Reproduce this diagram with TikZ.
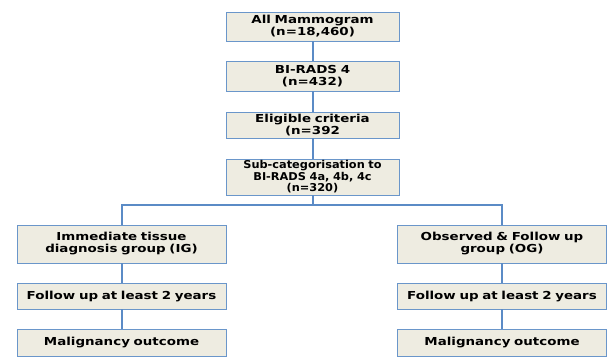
\documentclass[tikz,border=0pt]{standalone}
\usepackage{fontspec}
\setmainfont{DejaVu Sans}
\newfontfamily\boxfont[FakeStretch=1.22]{DejaVu Sans Bold}
\newfontfamily\subfont[FakeStretch=1.05]{DejaVu Sans Bold}
\usetikzlibrary{positioning}
\definecolor{boxfill}{HTML}{EEECE1}
\definecolor{boxline}{HTML}{6A96CA}
\definecolor{linkblue}{HTML}{5B8BC6}

\begin{document}
\begin{tikzpicture}[
    x=1pt, y=1pt,
    stepbox/.style={
    rectangle,
    draw=boxline,
    fill=boxfill,
    line width=1pt,
    inner xsep=2pt,
    inner ysep=0pt,
    outer sep=0pt,
    align=center,
    font=\boxfont\fontsize{11}{12}\selectfont},
    topbox/.style={stepbox, text width=169pt},
    groupbox/.style={stepbox, text width=205pt},
    link/.style={draw=linkblue, line width=2pt},
    node distance=20pt and 20pt
    ]
    \useasboundingbox (0,0) rectangle (613,-360);

    \node[topbox, minimum height=29pt] (all) at (312.5,-26.5) {All Mammogram\\(n=18,460)};
    \node[topbox, minimum height=30pt, below=of all] (birads) {BI-RADS 4\\(n=432)};
    \node[topbox, minimum height=26pt, below=21pt of birads] (elig) {Eligible criteria\\(n=392};
    \node[topbox, minimum height=36pt, below=21pt of elig,
          font=\subfont\fontsize{10.8}{11.5}\selectfont] (sub) {Sub-categorisation to\\BI-RADS 4a, 4b, 4c\\(n=320)};

    \node[groupbox, minimum height=38pt, below=30pt of sub, xshift=-191pt] (ig) {Immediate tissue\\diagnosis group (IG)};
    \node[groupbox, minimum height=26pt, below=of ig] (igfollow) {Follow up at least 2 years};
    \node[groupbox, minimum height=27pt, below=of igfollow] (igout) {Malignancy outcome};

    \node[groupbox, minimum height=38pt, below=30pt of sub, xshift=189.5pt] (og) {Observed \& Follow up\\group (OG)};
    \node[groupbox, minimum height=26pt, below=of og] (ogfollow) {Follow up at least 2 years};
    \node[groupbox, minimum height=27pt, below=of ogfollow] (ogout) {Malignancy outcome};

    \draw[link] (all) -- (birads);
    \draw[link] (birads) -- (elig);
    \draw[link] (elig) -- (sub);
    \draw[link] (sub.south) -- ++(0,-10) coordinate (split);
    \draw[link] (split) -| (ig.north);
    \draw[link] (split) -| (og.north);
    \draw[link] (ig) -- (igfollow);
    \draw[link] (igfollow) -- (igout);
    \draw[link] (og) -- (ogfollow);
    \draw[link] (ogfollow) -- (ogout);
\end{tikzpicture}
\end{document}
